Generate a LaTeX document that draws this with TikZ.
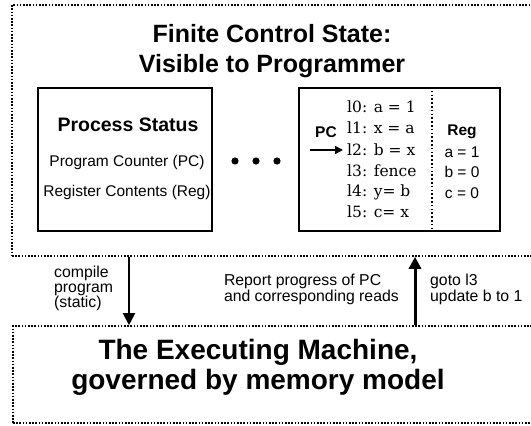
\documentclass[tikz,border=0pt]{standalone}
\usepackage{fontspec}
\setmainfont{Liberation Sans}
\newfontfamily\codefont{DejaVu Serif}
\usetikzlibrary{arrows.meta, positioning}

\tikzset{
  outerbox/.style={draw, line width=1.6pt, dash pattern=on 1.6pt off 1.6pt, inner sep=0pt},
  statebox/.style={draw, line width=2pt, inner sep=0pt},
  bigtitle/.style={font=\bfseries\fontsize{25}{30}\selectfont, align=center},
  lbl/.style={font=\fontsize{15.8}{16}\selectfont, align=left, inner sep=0pt},
  small/.style={font=\fontsize{15.5}{18}\selectfont},
  codeline/.style={font=\codefont\fontsize{15.5}{18}\selectfont, anchor=west, inner sep=0pt},
  flow/.style={line width=2pt, -{Triangle[length=12pt, width=12pt]}},
}

\begin{document}
\begin{tikzpicture}[x=1pt, y=-1pt]
        \useasboundingbox (0,0) rectangle (531,426);
        \clip (0,0) rectangle (531,426);

        % Finite control state
        \node[outerbox, minimum width=548pt, minimum height=251pt] (fcs) at (286,130.5) {};
        \node[bigtitle] (fcstitle) at (272,51) {Finite Control State:\\Visible to Programmer};

        % Process status box
        \node[statebox, minimum width=174pt, minimum height=143pt] (status) at (125,159.5) {};
        \node[font=\bfseries\fontsize{19.5}{22}\selectfont] (statushead) at (128,125) {Process Status};
        \node[small] (pcline) at (127,162) {Program Counter (PC)};
        \node[small] (regline) at (127,192) {Register Contents (Reg)};

        % Dots
        \foreach \x in {235,256,277} {
            \fill (\x,161) circle (3.6);
        }

        % Program box
        \node[statebox, minimum width=201pt, minimum height=143pt] (prog) at (399.5,159.5) {};
        \coordinate (split) at (432,0);
        \draw[line width=1.4pt, dash pattern=on 1.6pt off 2.2pt] (prog.north -| split) -- (prog.south -| split);
        \foreach \i/\y/\txt in {0/107/{a = 1}, 1/128/{x = a}, 2/150/{b = x}, 3/171/{fence}, 4/192/{y= b}, 5/212/{c= x}} {
            \node[codeline] (l\i) at (347,\y) {l\i: \txt};
        }
        \node[font=\bfseries\fontsize{15.5}{18}\selectfont] (pc) at (326,132) {PC};
        \coordinate (pcstart) at (310,150);
        \draw[line width=1.6pt, -{Triangle[length=8pt, width=8pt]}] (pcstart) -- ([xshift=-4pt]l2.west);

        % Registers
        \node[font=\bfseries\fontsize{15.5}{18}\selectfont] (reg) at (462,132) {Reg};
        \foreach \r/\v/\y in {a/1/152, b/0/172, c/0/193} {
            \node[small] (r\r) at (462,\y) {\r\ = \v};
        }

        % Executing machine
        \node[outerbox, minimum width=547pt, minimum height=97pt] (exe) at (286.5,374.5) {};
        \node[bigtitle, font=\bfseries\fontsize{28}{30}\selectfont] (exetitle) at (258,367) {The Executing Machine,\\governed by memory model};

        % Arrows between the two
        \coordinate (down) at (129,0);
        \coordinate (up) at (415,0);
        \draw[flow] (fcs.south -| down) -- (exe.north -| down);
        \draw[flow, line width=3pt] (exe.north -| up) -- (fcs.south -| up);

        % Labels
        \node[lbl, anchor=north west, font=\fontsize{15.8}{14.5}\selectfont] (compile) at (54,266) {compile\\program\\(static)};
        \node[lbl, anchor=east] (report) at (399,289) {Report progress of PC\\and corresponding reads};
        \node[lbl, anchor=west] (gotolbl) at (430,289) {goto l3\\update b to 1};
    \end{tikzpicture}
\end{document}
